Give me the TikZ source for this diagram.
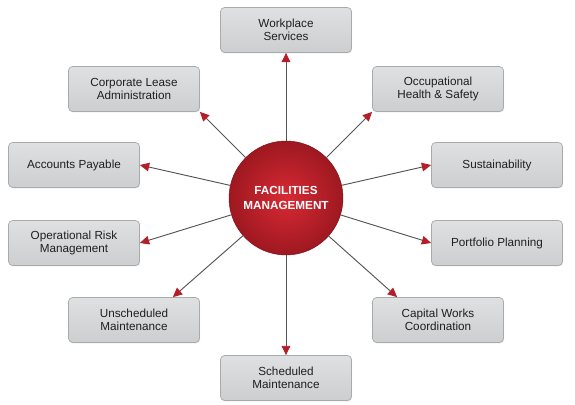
\documentclass[tikz,border=0pt]{standalone}
\usepackage{fontspec}
\setmainfont{Liberation Sans}
\usetikzlibrary{arrows.meta, shadows, calc}

\definecolor{boxtop}{RGB}{222,224,226}
\definecolor{boxbot}{RGB}{204,206,208}
\definecolor{boxline}{RGB}{168,170,172}
\definecolor{spokegray}{RGB}{85,85,88}
\definecolor{tipred}{RGB}{180,30,40}
\definecolor{hubin}{RGB}{216,42,52}
\definecolor{hubout}{RGB}{158,24,32}

\begin{document}
\begin{tikzpicture}[x=0.03cm, y=-0.03cm,
    box/.style={draw=boxline, line width=0.6pt, rounded corners=3.5pt,
        top color=boxtop, bottom color=boxbot,
        minimum width=3.93cm, minimum height=1.35cm, inner sep=1pt,
        align=center, text=black!88, font=\fontsize{10}{11.4}\selectfont,
        drop shadow={opacity=0.2, shadow xshift=0.6pt, shadow yshift=-0.8pt}},
    hub/.style={circle, draw=hubout!80!black, line width=0.4pt,
        inner color=hubin, outer color=hubout, minimum size=3.42cm, inner sep=0pt,
        align=center, text=white, font=\bfseries\fontsize{10}{12}\selectfont},
    spoke/.style={draw=spokegray, line width=0.8pt,
        -{Triangle[length=0.28cm, width=0.26cm, color=tipred]}}]

    \useasboundingbox (0, 0) rectangle (575, 405);

    \node[hub] (fm) at (286, 198) {FACILITIES\\MANAGEMENT};

    \foreach \nm/\x/\y/\txt in {
        wps/286/30/{Workplace\\Services},
        cla/134/89/{Corporate Lease\\Administration},
        ohs/438/89/{Occupational\\Health \& Safety},
        ap/74/165/{Accounts Payable},
        sus/497/165/{Sustainability},
        orm/74/243/{Operational Risk\\Management},
        pp/497/243/{Portfolio Planning},
        um/134/320/{Unscheduled\\Maintenance},
        cwc/438/320/{Capital Works\\Coordination},
        sm/286/378/{Scheduled\\Maintenance}} {
        \node[box] (\nm) at (\x, \y) {\txt};
    }

    % arrow tips on the two lower corner boxes
    \coordinate (umtip) at ($(um.north east) + (-27, 0)$);
    \coordinate (cwctip) at ($(cwc.north west) + (25, 0)$);

    \foreach \tgt in {wps.south, cla.south east, ohs.south west, ap.east, sus.west,
                      orm.east, pp.west, umtip, cwctip, sm.north} {
        \draw[spoke] (fm) -- (\tgt);
    }
\end{tikzpicture}
\end{document}
